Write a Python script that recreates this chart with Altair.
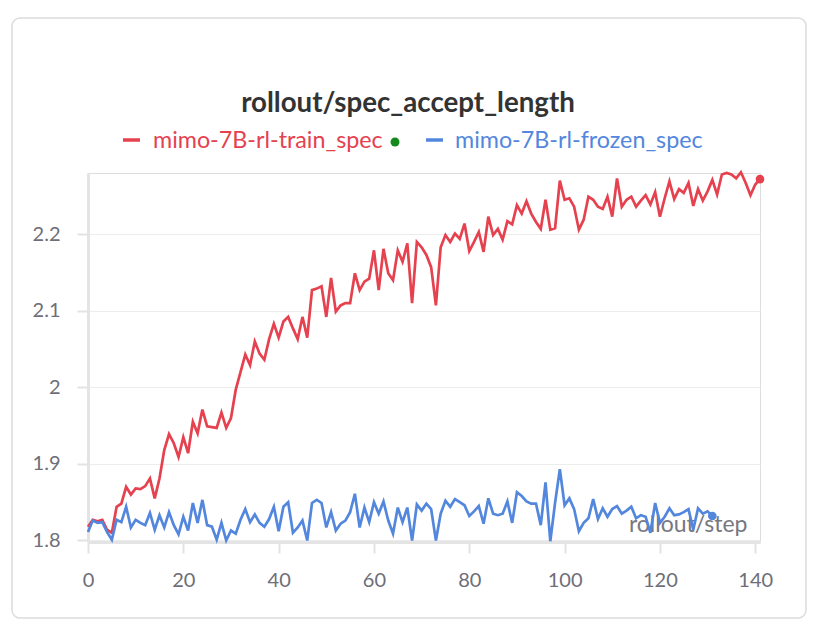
import altair as alt
import pandas as pd

# ---- data ----
train_name = "mimo-7B-rl-train_spec"
frozen_name = "mimo-7B-rl-frozen_spec"

train_values = [
    1.818, 1.827, 1.825, 1.827, 1.814, 1.810, 1.844, 1.848, 1.870, 1.860,
    1.868, 1.867, 1.871, 1.881, 1.855, 1.881, 1.918, 1.939, 1.927, 1.909,
    1.935, 1.914, 1.955, 1.940, 1.971, 1.949, 1.948, 1.947, 1.967, 1.947,
    1.960, 1.997, 2.020, 2.043, 2.029, 2.060, 2.044, 2.036, 2.063, 2.083,
    2.065, 2.086, 2.092, 2.077, 2.063, 2.092, 2.065, 2.127, 2.129, 2.132,
    2.092, 2.143, 2.099, 2.107, 2.110, 2.110, 2.149, 2.127, 2.138, 2.142,
    2.179, 2.127, 2.181, 2.149, 2.140, 2.179, 2.164, 2.188, 2.110, 2.190,
    2.183, 2.173, 2.157, 2.107, 2.183, 2.199, 2.190, 2.201, 2.194, 2.214,
    2.178, 2.190, 2.203, 2.177, 2.223, 2.199, 2.207, 2.193, 2.217, 2.213,
    2.238, 2.227, 2.243, 2.227, 2.216, 2.207, 2.245, 2.206, 2.208, 2.270,
    2.245, 2.247, 2.236, 2.206, 2.219, 2.249, 2.245, 2.236, 2.233, 2.249,
    2.223, 2.273, 2.236, 2.245, 2.249, 2.236, 2.244, 2.251, 2.239, 2.255,
    2.223, 2.247, 2.269, 2.246, 2.259, 2.254, 2.267, 2.237, 2.259, 2.244,
    2.256, 2.271, 2.252, 2.278, 2.280, 2.278, 2.273, 2.281, 2.267, 2.251,
    2.265, 2.272,
]

frozen_values = [
    1.811, 1.826, 1.823, 1.824, 1.811, 1.801, 1.827, 1.824, 1.844, 1.817,
    1.827, 1.823, 1.820, 1.836, 1.814, 1.833, 1.817, 1.837, 1.820, 1.808,
    1.831, 1.813, 1.849, 1.823, 1.853, 1.820, 1.818, 1.801, 1.823, 1.800,
    1.813, 1.809, 1.827, 1.841, 1.824, 1.834, 1.823, 1.818, 1.828, 1.844,
    1.812, 1.844, 1.850, 1.810, 1.817, 1.826, 1.800, 1.849, 1.853, 1.849,
    1.817, 1.837, 1.813, 1.822, 1.826, 1.837, 1.861, 1.817, 1.843, 1.824,
    1.850, 1.835, 1.851, 1.826, 1.809, 1.843, 1.824, 1.843, 1.800, 1.847,
    1.839, 1.848, 1.841, 1.800, 1.835, 1.852, 1.844, 1.854, 1.850, 1.846,
    1.832, 1.838, 1.845, 1.822, 1.855, 1.835, 1.833, 1.835, 1.851, 1.823,
    1.863, 1.858, 1.851, 1.848, 1.848, 1.820, 1.876, 1.799, 1.849, 1.893,
    1.846, 1.855, 1.841, 1.812, 1.823, 1.829, 1.854, 1.828, 1.842, 1.831,
    1.841, 1.845, 1.835, 1.839, 1.844, 1.829, 1.833, 1.831, 1.810, 1.849,
    1.823, 1.831, 1.842, 1.833, 1.834, 1.837, 1.841, 1.814, 1.842, 1.835,
    1.838, 1.832,
]

x_ticks = [0, 20, 40, 60, 80, 100, 120, 140]
y_ticks = [1.8, 1.9, 2.0, 2.1, 2.2]

title_text = "rollout/spec_accept_length"
x_title = "rollout/step"

RED = "#e5414f"
BLUE = "#5387dd"
GREEN = "#138a1b"
GRAY = "#6e6e78"
FONT = "Lato"

rows = []
for i, v in enumerate(train_values):
    rows.append({"step": i, "value": v, "series": train_name})
for i, v in enumerate(frozen_values):
    rows.append({"step": i, "value": v, "series": frozen_name})
df = pd.DataFrame(rows)

last = pd.DataFrame([
    {"step": len(train_values) - 1, "value": train_values[-1], "series": train_name},
    {"step": len(frozen_values) - 1, "value": frozen_values[-1], "series": frozen_name},
])

W, H = 672, 369

xscale = alt.Scale(domain=[0, 141], nice=False, zero=False)
yscale = alt.Scale(domain=[1.798, 2.28], nice=False, zero=False)
cscale = alt.Scale(domain=[train_name, frozen_name], range=[RED, BLUE])

x_enc = alt.X("step:Q", scale=xscale, title=x_title,
              axis=alt.Axis(values=x_ticks, grid=False, domainColor="#e4e4e4",
                            domainWidth=3, tickColor="#e2e2e2", tickWidth=2,
                            tickSize=11, labelPadding=17, labelFontSize=20,
                            labelColor=GRAY, labelFont=FONT, labelFlush=False,
                            titleFont=FONT, titleFontSize=23, titleFontWeight="normal",
                            titleColor="#77777f", titleAlign="right",
                            titleBaseline="alphabetic", titleX=659, titleY=-11))
y_enc = alt.Y("value:Q", scale=yscale, title=None,
              axis=alt.Axis(values=y_ticks, format="~g", grid=True,
                            gridColor="#ececec", gridWidth=1,
                            domainColor="#e4e4e4", domainWidth=3,
                            tickColor="#e2e2e2", tickWidth=2, tickSize=11,
                            labelPadding=17, labelFontSize=20, labelColor=GRAY,
                            labelFont=FONT, labelFlush=False))

lines = alt.Chart(df).mark_line(strokeWidth=2.7, strokeJoin="miter").encode(
    x=x_enc, y=y_enc,
    color=alt.Color("series:N", scale=cscale, legend=None),
    detail="series:N",
)

dots = alt.Chart(last).mark_circle(size=75, opacity=1).encode(
    x=alt.X("step:Q", scale=xscale),
    y=alt.Y("value:Q", scale=yscale),
    color=alt.Color("series:N", scale=cscale, legend=None),
)

one = pd.DataFrame({"k": [0]})

card = alt.Chart(one).mark_rect(fillOpacity=0, stroke="#dcdcdc", strokeWidth=1.5,
                                cornerRadius=8).encode(
    x=alt.value(-76), x2=alt.value(718), y=alt.value(-155), y2=alt.value(445))

title = alt.Chart(one).mark_text(text=title_text, font=FONT, fontSize=27.7,
                                 fontWeight="bold", color="#333333",
                                 align="center", baseline="alphabetic").encode(
    x=alt.value(320), y=alt.value(-61))

leg_red_line = alt.Chart(one).mark_rule(color=RED, strokeWidth=3.5).encode(
    x=alt.value(35), x2=alt.value(52), y=alt.value(-33))
leg_red_text = alt.Chart(one).mark_text(text=train_name, font=FONT, fontSize=23.3,
                                        color=RED, align="left", baseline="middle").encode(
    x=alt.value(65), y=alt.value(-32))
leg_green = alt.Chart(one).mark_circle(color=GREEN, size=80, opacity=1).encode(
    x=alt.value(307), y=alt.value(-31))
leg_blue_line = alt.Chart(one).mark_rule(color=BLUE, strokeWidth=3.5).encode(
    x=alt.value(338), x2=alt.value(355), y=alt.value(-33))
leg_blue_text = alt.Chart(one).mark_text(text=frozen_name, font=FONT, fontSize=23.3,
                                         color=BLUE, align="left", baseline="middle").encode(
    x=alt.value(367), y=alt.value(-32))

chart = alt.layer(
    card, lines, dots, title,
    leg_red_line, leg_red_text, leg_green, leg_blue_line, leg_blue_text,
).properties(
    width=W, height=H,
    autosize=alt.AutoSizeParams(type="none"),
    padding={"left": 80, "top": 165, "right": 60, "bottom": 78},
    background="white",
).configure_view(strokeWidth=0).configure(font=FONT)

chart.save("out.html", embed_options={"renderer": "svg", "actions": False})
